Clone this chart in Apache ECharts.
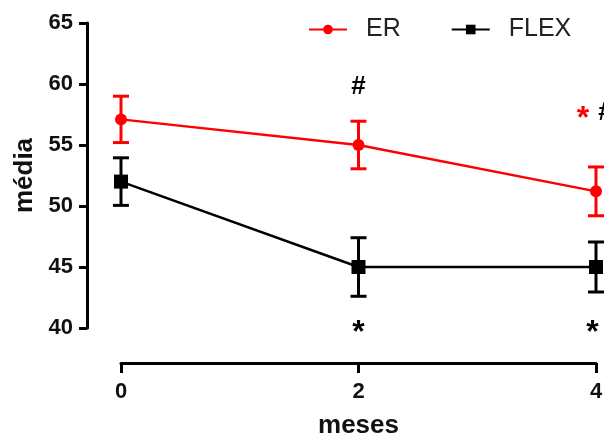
<!DOCTYPE html>
<html>
<head>
<meta charset="utf-8">
<script src="https://cdn.jsdelivr.net/npm/echarts@6/dist/echarts.min.js"></script>
<style>html,body{margin:0;padding:0;background:#fff;}#c{width:604px;height:439px;}</style>
</head>
<body>
<div id="c"></div>
<script>
var months = [0, 2, 4];
var erMean = [57.1, 55.0, 51.2];
var erErr = [1.9, 1.95, 2.0];
var flexMean = [52.0, 45.0, 45.0];
var flexErr = [1.95, 2.4, 2.05];
var yTicks = [40, 45, 50, 55, 60, 65];
var annX = [2, 3.89, 4.08, 2, 3.97];
var annY = [59.75, 57.1, 57.6, 39.6, 39.6];
var annText = ['#', '*', '#', '*', '*'];
var annColor = ['#000', '#ff0000', '#000', '#000', '#000'];

var FONT = 'Arial, "Liberation Sans", sans-serif';

function pairs(xs, ys) { return xs.map(function (x, i) { return [x, ys[i]]; }); }
function errData(xs, m, e) { return xs.map(function (x, i) { return [x, m[i] - e[i], m[i] + e[i]]; }); }

function errRender(color) {
  return function (params, api) {
    var x = api.value(0);
    var lo = api.coord([x, api.value(1)]);
    var hi = api.coord([x, api.value(2)]);
    var hw = 8;
    var st = { stroke: color, lineWidth: 3 };
    return {
      type: 'group',
      children: [
        { type: 'line', shape: { x1: lo[0], y1: lo[1], x2: hi[0], y2: hi[1] }, style: st },
        { type: 'line', shape: { x1: lo[0] - hw, y1: lo[1], x2: lo[0] + hw, y2: lo[1] }, style: st },
        { type: 'line', shape: { x1: hi[0] - hw, y1: hi[1], x2: hi[0] + hw, y2: hi[1] }, style: st }
      ]
    };
  };
}

var chart = echarts.init(document.getElementById('c'), null, { renderer: 'canvas' });
chart.setOption({
  backgroundColor: '#fff',
  animation: false,
  grid: { left: 121, right: 8, top: 23, bottom: 111, containLabel: false, outerBoundsMode: 'none' },
  legend: {
    left: 303, top: 12, itemGap: 50, itemWidth: 38, itemHeight: 12,
    textStyle: { fontSize: 25, color: '#222', fontFamily: FONT, padding: [0, 0, 0, 14] },
    data: ['ER', 'FLEX']
  },
  xAxis: {
    type: 'value', min: 0, max: 4, interval: 2, offset: 35,
    name: 'meses', nameLocation: 'middle', nameGap: 50,
    nameTextStyle: { fontSize: 26, fontWeight: 'bold', color: '#111', fontFamily: FONT },
    axisLine: { onZero: false, lineStyle: { color: '#000', width: 3 } },
    axisTick: { length: 10, lineStyle: { color: '#000', width: 3 } },
    axisLabel: { margin: 18, fontSize: 22, fontWeight: 'bold', color: '#111', fontFamily: FONT,
      formatter: function (v) { return months.indexOf(v) >= 0 ? String(v) : ''; } },
    splitLine: { show: false }
  },
  yAxis: {
    type: 'value', min: yTicks[0], max: yTicks[yTicks.length - 1], interval: 5, offset: 34,
    name: 'média', nameLocation: 'middle', nameGap: 48, nameRotate: 90,
    nameTextStyle: { fontSize: 26, fontWeight: 'bold', color: '#111', fontFamily: FONT },
    axisLine: { show: true, onZero: false, lineStyle: { color: '#000', width: 3 } },
    axisTick: { show: true, length: 8, lineStyle: { color: '#000', width: 3 } },
    axisLabel: { margin: 14, fontSize: 22, fontWeight: 'bold', color: '#111', fontFamily: FONT },
    splitLine: { show: false }
  },
  series: [
    { name: 'ER', type: 'line', data: pairs(months, erMean), color: '#ff0000',
      symbol: 'circle', symbolSize: 12, lineStyle: { width: 2.5, color: '#ff0000' },
      itemStyle: { color: '#ff0000' }, z: 3, clip: false },
    { name: 'FLEX', type: 'line', data: pairs(months, flexMean), color: '#000',
      symbol: 'rect', symbolSize: 14, lineStyle: { width: 2.5, color: '#000' },
      itemStyle: { color: '#000' }, z: 3, clip: false },
    { type: 'custom', data: errData(months, erMean, erErr), renderItem: errRender('#ff0000'), z: 2, clip: false, silent: true },
    { type: 'custom', data: errData(months, flexMean, flexErr), renderItem: errRender('#000'), z: 2, clip: false, silent: true },
    { type: 'custom', clip: false, silent: true, z: 4,
      data: annX.map(function (x, i) { return [x, annY[i]]; }),
      renderItem: function (params, api) {
        var p = api.coord([api.value(0), api.value(1)]);
        var i = params.dataIndex;
        var isStar = annText[i] === '*';
        return { type: 'text', x: p[0], y: p[1],
          style: { text: annText[i], fill: annColor[i], align: 'center', verticalAlign: 'middle',
            font: 'bold ' + (isStar ? 32 : 26) + 'px ' + FONT } };
      } }
  ]
});
</script>
</body>
</html>
